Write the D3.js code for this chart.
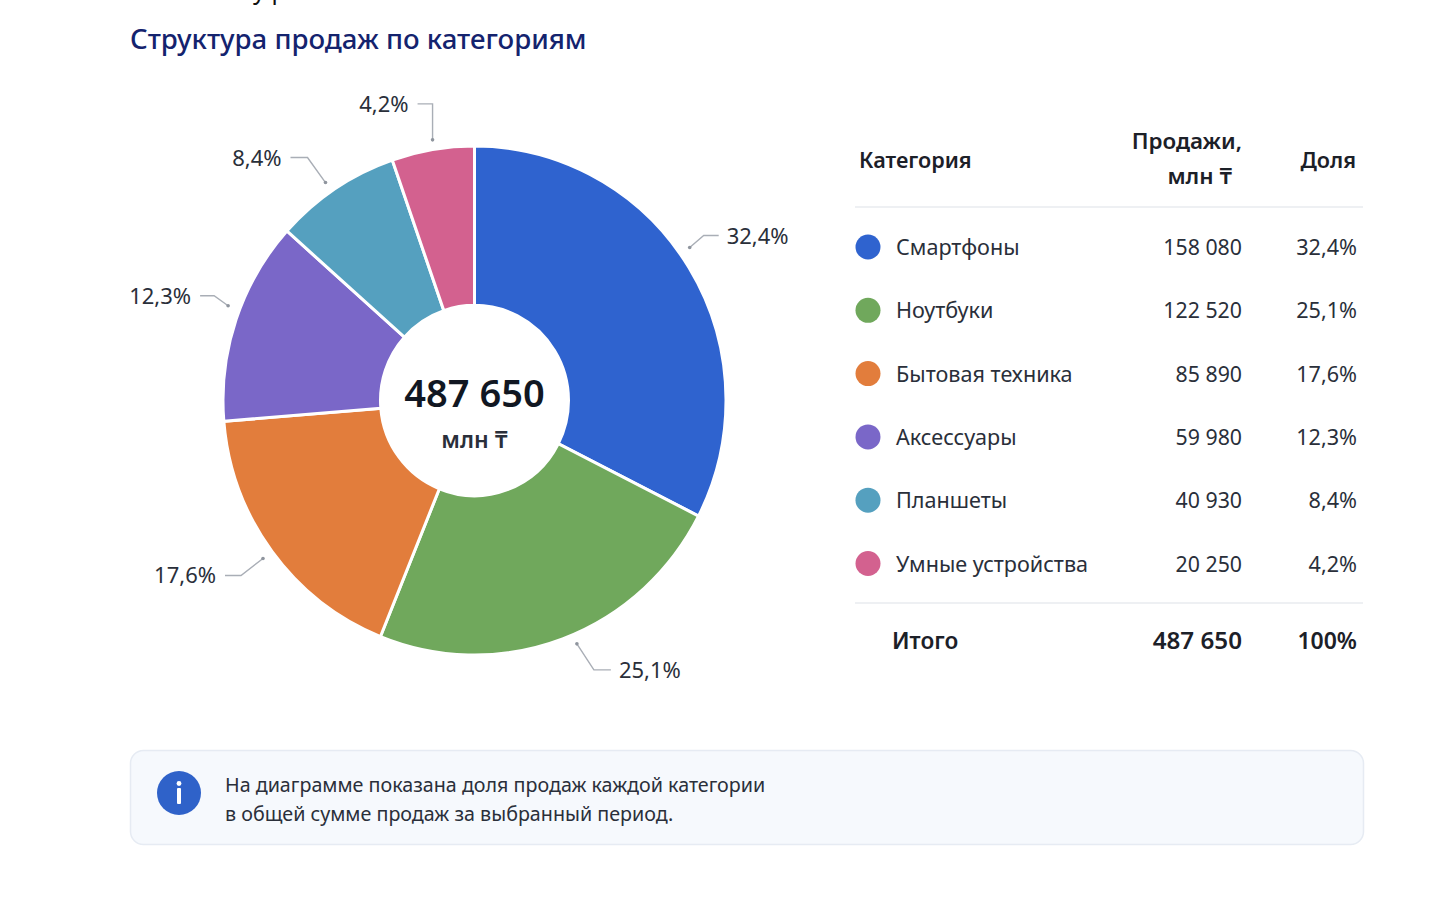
<!DOCTYPE html>
<html lang="ru">
<head>
<meta charset="utf-8">
<title>Структура продаж по категориям</title>
<script src="https://cdn.jsdelivr.net/npm/d3@7"></script>
<style>
  html,body{margin:0;padding:0;background:#fff}
  svg{display:block}
  text{font-family:"Noto Sans","Open Sans",sans-serif}
  .semi{font-weight:600}
</style>
</head>
<body>
<svg id="chart" width="1436" height="914"></svg>
<script>
'use strict';

/* DATA */
const categories=['Смартфоны','Ноутбуки','Бытовая техника','Аксессуары','Планшеты','Умные устройства'];
const sales=[158080,122520,85890,59980,40930,20250];
const shares=[32.4,25.1,17.6,12.3,8.4,4.2];
// the slices in the picture are not quite the size of their labels, so these are measured off it
const drawnShares=[32.5,23.6,17.6,12.9,8.1,5.3];
const colors=['#2f63cf','#70a85c','#e27d3c','#7a67c8','#55a0bf','#d3618f'];
const totalSales=487650;
const totalShare='100%';

/* LAYOUT */
// leader dots sit a little off the slice middle, degrees
const leaderTurn=[-3.9,-2.3,-0.4,2.5,-0.7,0.4];
// elbow of each leader relative to its dot
const leaderElbow=[[14,-12],[17,26],[-22,17],[-14,-10],[-18,-25],[0,-36]];
const leaderRun=[15,17,16,14,17,15];

const fmtNum=n=>String(n).replace(/\B(?=(\d{3})+$)/g,' ');
const fmtPct=p=>String(p).replace('.',',')+'%';

const svg=d3.select('#chart');

// clipped line from the page above
svg.append('text').attr('x',253).attr('y',-1).attr('font-size',24).attr('fill','#111').text('у р');

svg.append('text')
  .attr('x',130).attr('y',49).attr('font-size',27.6).attr('font-weight',500).attr('fill','#14236e')
  .text('Структура продаж по категориям');

/* ── donut ── */
const cx=474.5,cy=400.5,R=251.5,r0=94;

const pie=d3.pie().sort(null).value(d=>d);
const arcs=pie(drawnShares);
const arc=d3.arc().innerRadius(r0).outerRadius(R);

const donut=svg.append('g').attr('transform',`translate(${cx},${cy}) scale(1,1.012)`);

donut.selectAll('path')
  .data(arcs)
  .enter()
  .append('path')
  .attr('d',arc)
  .attr('fill',(d,i)=>colors[i])
  .attr('stroke','#fff')
  .attr('stroke-width',3);

svg.append('text').attr('class','semi')
  .attr('x',cx).attr('y',407).attr('text-anchor','middle')
  .attr('font-size',38).attr('fill','#111722')
  .text(fmtNum(totalSales));

svg.append('text').attr('class','semi')
  .attr('x',cx).attr('y',448).attr('text-anchor','middle')
  .attr('font-size',23).attr('fill','#2a2f3a')
  .text('млн ₸');

/* ── leaders ── */
const leader=svg.append('g').attr('transform',`translate(${cx},${cy})`)
  .selectAll('g')
  .data(arcs)
  .enter()
  .append('g');

function leaderPts(d,i){
  const turn=leaderTurn[i]*Math.PI/180;
  const a=(d.startAngle+d.endAngle)/2+turn;
  const x=264*Math.sin(a),y=-264*Math.cos(a);
  const [ex,ey]=leaderElbow[i];
  const right=d.index<2;
  const elbow=[x+ex,y+ey];
  const end=[elbow[0]+(right?leaderRun[i]:-leaderRun[i]),elbow[1]];
  return {dot:[x,y],elbow,end,right};
}

leader.append('path')
  .attr('d',(d,i)=>{
    const p=leaderPts(d,i);
    return d3.line()([p.dot,p.elbow,p.end]);
  })
  .attr('fill','none')
  .attr('stroke','#a9aeb6')
  .attr('stroke-width',1.4);

leader.append('circle')
  .attr('cx',(d,i)=>leaderPts(d,i).dot[0])
  .attr('cy',(d,i)=>leaderPts(d,i).dot[1])
  .attr('r',1.8)
  .attr('fill','#8f959e');

leader.append('text')
  .attr('x',(d,i)=>{
    const p=leaderPts(d,i);
    return p.end[0]+(p.right?8:-9);
  })
  .attr('y',(d,i)=>leaderPts(d,i).end[1]+8)
  .attr('text-anchor',(d,i)=>leaderPts(d,i).right?'start':'end')
  .attr('font-size',22)
  .attr('fill','#2a2f3a')
  .text((d,i)=>fmtPct(shares[i]));

/* ── table ── */
const rowY=d3.scalePoint().domain(categories).range([247,563.5]);
const salesRight=1242,shareRight=1357;
const table=svg.append('g');

const head=[
  {t:'Категория',x:859,y:168,a:'start',s:21.6},
  {t:'Продажи,',x:salesRight,y:149,a:'end',s:22.4},
  {t:'млн ₸',x:1232,y:184,a:'end',s:22.4},
  {t:'Доля',x:1356,y:168,a:'end',s:21.6}
];

table.selectAll('text.head')
  .data(head)
  .enter()
  .append('text')
  .attr('class','head semi')
  .attr('x',d=>d.x)
  .attr('y',d=>d.y)
  .attr('text-anchor',d=>d.a)
  .attr('font-size',d=>d.s)
  .attr('fill','#1c2028')
  .text(d=>d.t);

table.selectAll('line')
  .data([207,603])
  .enter()
  .append('line')
  .attr('x1',855).attr('x2',1363)
  .attr('y1',d=>d).attr('y2',d=>d)
  .attr('stroke','#e8ebef')
  .attr('stroke-width',1.5);

const row=table.selectAll('g.row')
  .data(categories)
  .enter()
  .append('g')
  .attr('class','row')
  .attr('transform',d=>`translate(0,${rowY(d)})`);

row.append('circle').attr('cx',868).attr('r',12.5).attr('fill',(d,i)=>colors[i]);

row.append('text').attr('x',896).attr('y',8).attr('font-size',21.6).attr('fill','#2a2f3a').text(d=>d);

row.append('text').attr('x',salesRight).attr('y',8).attr('text-anchor','end')
  .attr('font-size',21.3).attr('fill','#2a2f3a').text((d,i)=>fmtNum(sales[i]));

row.append('text').attr('x',shareRight).attr('y',8).attr('text-anchor','end')
  .attr('font-size',21.6).attr('fill','#2a2f3a').text((d,i)=>fmtPct(shares[i]));

const totals=[
  {t:'Итого',x:892,a:'start',s:22.6},
  {t:fmtNum(totalSales),x:salesRight,a:'end',s:24.2},
  {t:totalShare,x:shareRight,a:'end',s:23}
];

table.selectAll('text.total')
  .data(totals)
  .enter()
  .append('text')
  .attr('class','total semi')
  .attr('x',d=>d.x)
  .attr('y',649)
  .attr('text-anchor',d=>d.a)
  .attr('font-size',d=>d.s)
  .attr('fill','#1c2028')
  .text(d=>d.t);

/* ── note ── */
const note=svg.append('g');

note.append('rect')
  .attr('x',130.5).attr('y',750.5).attr('width',1233).attr('height',94).attr('rx',13)
  .attr('fill','#f6f9fd').attr('stroke','#e6ebf3').attr('stroke-width',1.5);

note.append('circle').attr('cx',179).attr('cy',793).attr('r',22).attr('fill','#2f62c9');
note.append('circle').attr('cx',179).attr('cy',783.5).attr('r',2.4).attr('fill','#fff');
note.append('rect').attr('x',177).attr('y',788).attr('width',4).attr('height',16).attr('rx',1).attr('fill','#fff');

note.selectAll('text')
  .data(['На диаграмме показана доля продаж каждой категории','в общей сумме продаж за выбранный период.'])
  .enter()
  .append('text')
  .attr('x',225)
  .attr('y',(d,i)=>792+i*29)
  .attr('font-size',19.7)
  .attr('fill','#2a2f3a')
  .text(d=>d);
</script>
</body>
</html>
